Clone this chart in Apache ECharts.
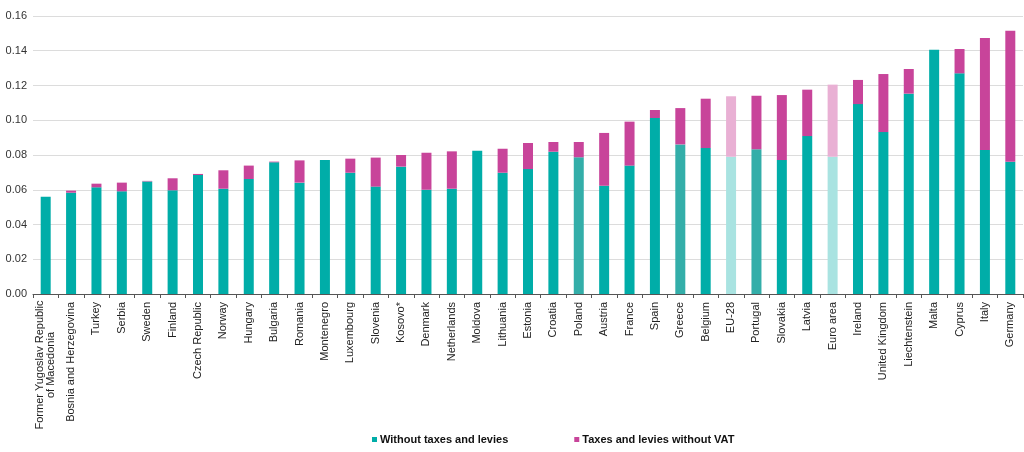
<!DOCTYPE html>
<html><head><meta charset="utf-8">
<script src="https://cdn.jsdelivr.net/npm/echarts@6/dist/echarts.min.js"></script>
<style>html,body{margin:0;padding:0;background:#fff}#c{width:1024px;height:452px}</style>
</head><body><div id="c"></div>
<script>
const categories = ['Former Yugoslav Republic\nof Macedonia','Bosnia and Herzegovina','Turkey','Serbia','Sweden','Finland','Czech Republic','Norway','Hungary','Bulgaria','Romania','Montenegro','Luxembourg','Slovenia','Kosovo*','Denmark','Netherlands','Moldova','Lithuania','Estonia','Croatia','Poland','Austria','France','Spain','Greece','Belgium','EU-28','Portugal','Slovakia','Latvia','Euro area','Ireland','United Kingdom','Liechtenstein','Malta','Cyprus','Italy','Germany'];
const withoutTaxes = [0.0560,0.0583,0.0614,0.0591,0.0648,0.0597,0.0685,0.0606,0.0662,0.0758,0.0641,0.0771,0.0698,0.0618,0.0733,0.0600,0.0606,0.0825,0.0698,0.0719,0.0819,0.0787,0.0623,0.0739,0.1013,0.0861,0.0840,0.0790,0.0833,0.0771,0.0909,0.0790,0.1093,0.0932,0.1153,0.1406,0.1270,0.0829,0.0761];
const taxesNoVat = [0,0.0012,0.0021,0.0050,0.0003,0.0069,0.0006,0.0106,0.0077,0.0004,0.0128,0,0.0081,0.0167,0.0067,0.0213,0.0215,0,0.0138,0.0150,0.0056,0.0088,0.0304,0.0253,0.0046,0.0209,0.0284,0.0348,0.0308,0.0374,0.0267,0.0415,0.0139,0.0334,0.0142,0,0.0140,0.0644,0.0754];
const yTickLabels = ['0.00','0.02','0.04','0.06','0.08','0.10','0.12','0.14','0.16'];
const darkTealCats = ['Poland','Greece','Portugal'];
const lightCats = ['EU-28','Euro area'];

const TEAL = '#00ADA8', TEAL_DARK = '#33AEA9', TEAL_LIGHT = '#A9E3E1';
const PINK = '#C8449A', PINK_LIGHT = '#E9B0D4';

const baseData = withoutTaxes.map((v, i) => {
  const c = categories[i];
  let col = TEAL;
  if (darkTealCats.includes(c)) col = TEAL_DARK;
  if (lightCats.includes(c)) col = TEAL_LIGHT;
  return { value: v, itemStyle: { color: col } };
});
const taxData = taxesNoVat.map((v, i) => {
  const c = categories[i];
  return { value: v, itemStyle: { color: lightCats.includes(c) ? PINK_LIGHT : PINK } };
});

const chart = echarts.init(document.getElementById('c'));
chart.setOption({
  animation: false,
  backgroundColor: '#fff',
  textStyle: { fontFamily: 'Liberation Sans, Arial, sans-serif' },
  grid: { left: 33, right: 1, top: 16, bottom: 158, containLabel: false, outerBoundsMode: 'none' },
  legend: {
    left: 367, top: 429,
    itemWidth: 5, itemHeight: 5, itemGap: 66,
    icon: 'rect',
    textStyle: { fontSize: 11, fontWeight: 'bold', color: '#111', padding: [0, 0, 0, -2] },
    data: [
      { name: 'Without taxes and levies', itemStyle: { color: TEAL } },
      { name: 'Taxes and levies without VAT', itemStyle: { color: PINK } }
    ]
  },
  xAxis: {
    type: 'category',
    data: categories,
    axisLine: { lineStyle: { color: '#555', width: 1 } },
    axisTick: { show: true, length: 4, lineStyle: { color: '#555' } },
    axisLabel: {
      rotate: 90, interval: 0, margin: 8, fontSize: 11, color: '#222',
      formatter: function (v) {
        if (v.indexOf('\n') >= 0) {
          return v.split('\n').map(s => '{c|' + s + '}').join('\n');
        }
        return v;
      },
      rich: { c: { width: 126, align: 'center', fontSize: 11, color: '#222' } }
    }
  },
  yAxis: {
    type: 'value', min: 0, max: 0.16, interval: 0.02,
    axisLine: { show: false }, axisTick: { show: false },
    splitLine: { lineStyle: { color: '#dcdcdc', width: 1 } },
    axisLabel: {
      fontSize: 11, color: '#333', margin: 6,
      formatter: function (v) { return yTickLabels[Math.round(v / 0.02)]; }
    }
  },
  series: [
    { name: 'Without taxes and levies', type: 'bar', stack: 'p', barWidth: 10, data: baseData, itemStyle: { color: TEAL } },
    { name: 'Taxes and levies without VAT', type: 'bar', stack: 'p', barWidth: 10, data: taxData, itemStyle: { color: PINK } }
  ]
});
</script></body></html>
